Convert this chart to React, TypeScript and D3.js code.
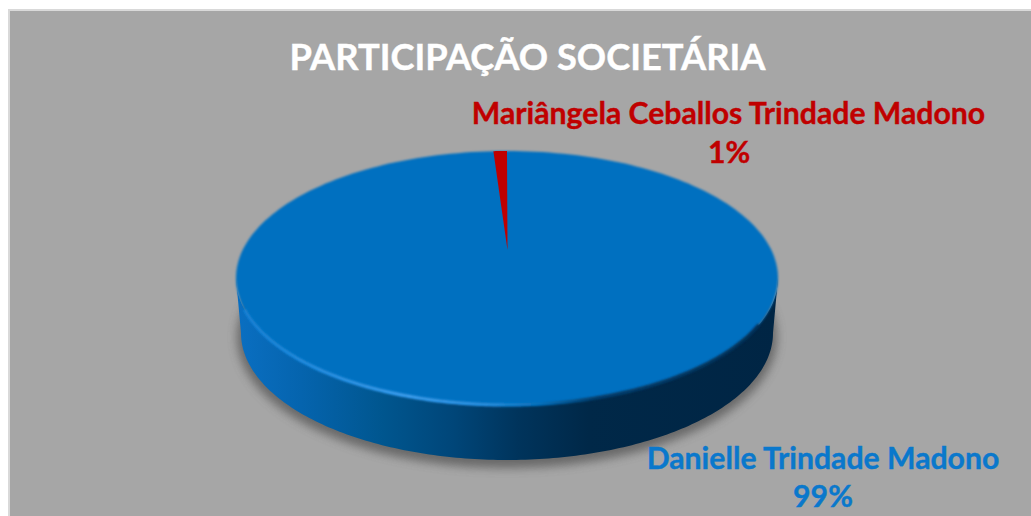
import React from "react";
import * as d3 from "d3";

const titleText = "PARTICIPAÇÃO SOCIETÁRIA";
const owners = ["Danielle Trindade Madono", "Mariângela Ceballos Trindade Madono"];
const shares = [99.2, 0.8];
const ownerColors = ["#0070c0", "#c00000"];

const W = 1031;
const H = 516;
const top = { cx: 507, cy: 278, rx: 271, ry: 127 };
const bottom = { cx: 507, cy: 333, rx: 266, ry: 127 };
const apex: [number, number] = [507.5, 250];

type E = typeof top;
const pt = (e: E, a: number): [number, number] => [e.cx + e.rx * Math.sin(a), e.cy - e.ry * Math.cos(a)];
const span = (a0: number, a1: number, n = 180) => d3.range(n + 1).map((i) => a0 + ((a1 - a0) * i) / n);
const line = d3.line();
const ellipsePath = (e: E) => line(span(0, 2 * Math.PI, 240).map((a) => pt(e, a))) + "Z";

const arcs = d3.pie<number>().sort(null).value((d) => d)(shares);

const topPath = ellipsePath(top);
const redPath = line([apex, ...span(arcs[1].startAngle, arcs[1].endAngle, 12).map((a) => pt(top, a))]) + "Z";
const sidePath =
  line([
    ...span(Math.PI / 2, (3 * Math.PI) / 2).map((a) => pt(top, a)),
    ...span((3 * Math.PI) / 2, Math.PI / 2).map((a) => pt(bottom, a)),
  ]) + "Z";
const rimPath = line(span(Math.PI * 0.62, Math.PI * 1.42).map((a) => pt(top, a))) ?? "";
const shadowPath = ellipsePath({ cx: bottom.cx, cy: bottom.cy + 4, rx: bottom.rx + 4, ry: bottom.ry + 4 });

const pctLabel = (v: number) => `${Math.round(v)}%`;

export default function App() {
  return (
    <svg
      width={W}
      height={H}
      viewBox={`0 0 ${W} ${H}`}
      style={{ position: "absolute", left: 0, top: 0, display: "block", fontFamily: "Lato, 'Open Sans', sans-serif", fontWeight: 700 }}
    >
      <defs>
        <filter id="shadowBlur" x="-10%" y="-10%" width="120%" height="120%">
          <feGaussianBlur stdDeviation="5" />
        </filter>
        <filter id="softBlur" x="-5%" y="-5%" width="110%" height="110%">
          <feGaussianBlur stdDeviation="1" />
        </filter>
        <filter id="rimBlur" x="-5%" y="-5%" width="110%" height="110%">
          <feGaussianBlur stdDeviation="1.2" />
        </filter>
        <linearGradient id="sideGrad" gradientUnits="userSpaceOnUse" x1={top.cx - top.rx} x2={top.cx + top.rx} y1="0" y2="0">
          <stop offset="0" stopColor="#0a6fc2" />
          <stop offset="0.12" stopColor="#0564ae" />
          <stop offset="0.27" stopColor="#00568f" />
          <stop offset="0.4" stopColor="#004679" />
          <stop offset="0.52" stopColor="#00345c" />
          <stop offset="0.65" stopColor="#002848" />
          <stop offset="1" stopColor="#002544" />
        </linearGradient>
        <linearGradient id="rimGrad" gradientUnits="userSpaceOnUse" x1={top.cx - top.rx} x2={top.cx + top.rx} y1="0" y2="0">
          <stop offset="0" stopColor="#1480d6" />
          <stop offset="0.15" stopColor="#2490e6" />
          <stop offset="0.32" stopColor="#3aa0f4" />
          <stop offset="0.47" stopColor="#2490e4" />
          <stop offset="0.56" stopColor="#0070c0" />
          <stop offset="0.66" stopColor="#003a68" />
          <stop offset="1" stopColor="#002a4e" />
        </linearGradient>
      </defs>

      <rect x={8} y={9} width={W - 8} height={H - 9} fill="#d9d9d9" />
      <rect x={10} y={11} width={W - 10} height={H - 11} fill="#a6a6a6" />

      <path d={shadowPath} fill="#505050" opacity={0.7} filter="url(#shadowBlur)" />
      <path d={sidePath} fill="url(#sideGrad)" />
      <path d={topPath} fill={ownerColors[0]} filter="url(#softBlur)" />
      <path d={rimPath} fill="none" stroke="url(#rimGrad)" strokeWidth={3.2} filter="url(#rimBlur)" />
      <path d={redPath} fill={ownerColors[1]} />

      <text x={527.5} y={70} textAnchor="middle" fill="#ffffff" fontSize={36.3} stroke="#ffffff" strokeWidth={0.4}>{titleText}</text>
      <text x={728.5} y={124} textAnchor="middle" fill={ownerColors[1]} fontSize={30.2} stroke={ownerColors[1]} strokeWidth={0.4}>{owners[1]}</text>
      <text x={729} y={163} textAnchor="middle" fill={ownerColors[1]} fontSize={30.2} stroke={ownerColors[1]} strokeWidth={0.4}>{pctLabel(shares[1])}</text>
      <text x={823} y={469} textAnchor="middle" fill="#0a78cc" fontSize={30.2} stroke="#0a78cc" strokeWidth={0.4}>{owners[0]}</text>
      <text x={823} y={507} textAnchor="middle" fill="#0a78cc" fontSize={30.2} stroke="#0a78cc" strokeWidth={0.4}>{pctLabel(shares[0])}</text>
    </svg>
  );
}
